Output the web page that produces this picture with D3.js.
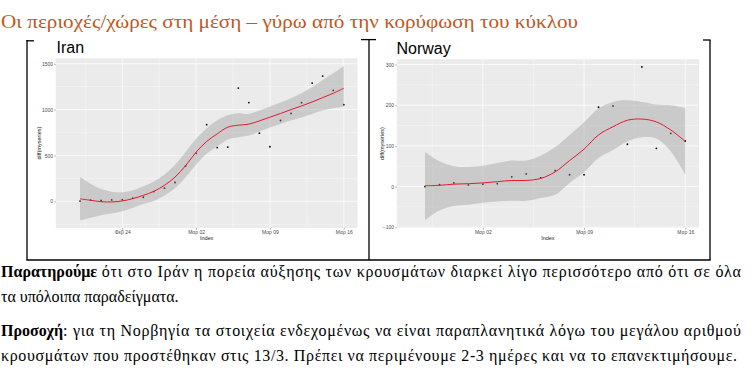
<!DOCTYPE html>
<meta charset="utf-8" />
<title>Iran / Norway - diff(myseries)</title>
<style>
  body { margin: 0; background: #fff; }
  svg { display: block; }
  .panel-bg { fill: #ebebeb; }
  .grid-major { stroke: #fff; stroke-width: 0.7px; }
  .grid-minor { stroke: #fff; stroke-width: 0.35px; }
  .band { fill: #999; fill-opacity: 0.4; }
  .smooth { fill: none; stroke: #e8182a; stroke-width: 1px; }
  .dot { fill: #000; }
  .axis path { display: none; }
  .axis line { stroke: #333; stroke-width: 0.4px; }
  .axis text { font-family: "Liberation Sans", Arial, sans-serif; font-size: 5px; fill: #4d4d4d; }
  .axis-title { font-family: "Liberation Sans", Arial, sans-serif; font-size: 5.5px; fill: #222; }
  .plot-title { font-family: "Liberation Sans", Arial, sans-serif; font-size: 16px; fill: #000; }
  .heading { font-family: "Liberation Serif", "Times New Roman", serif; font-size: 19px; fill: #c2561a; }
  .body-text { font-family: "Liberation Serif", "Times New Roman", serif; font-size: 16px; fill: #000; }
  .frame { stroke: #000; stroke-width: 1.3px; }
</style>
<body>
<svg width="753" height="372"></svg>
<script src="https://d3js.org/d3.v7.min.js"></script>
<script>
const width = 753, height = 372;
const svg = d3.select("svg").attr("width", width).attr("height", height);

// ---- Iran: daily new cases (diff) + loess fit and band
const iranStart = "2020-02-19"; // first cumulative value, diff is NA there
const iranDates = ["2020-02-20","2020-02-21","2020-02-22","2020-02-23","2020-02-24","2020-02-25",
  "2020-02-26","2020-02-27","2020-02-28","2020-02-29","2020-03-01","2020-03-02","2020-03-03",
  "2020-03-04","2020-03-05","2020-03-06","2020-03-07","2020-03-08","2020-03-09","2020-03-10",
  "2020-03-11","2020-03-12","2020-03-13","2020-03-14","2020-03-15","2020-03-16"];
const iranCases = [3,13,10,15,18,34,44,106,143,205,385,523,835,586,591,1234,1076,743,595,881,958,1075,1289,1365,1209,1053];
const iranFit = [27,11,-4,-7,4,29,65,109,174,264,388,536,652,735,808,830,841,877,917,957,1000,1040,1083,1130,1178,1232];
const iranLower = [-207,-178,-152,-134,-109,-69,-29,4,62,141,261,399,518,598,674,699,717,761,804,844,880,913,953,989,1014,1033];
const iranUpper = [264,192,134,105,98,120,163,217,293,399,536,685,797,884,938,960,953,989,1033,1076,1123,1178,1243,1322,1395,1475];
const iranXTicks = ["2020-02-24","2020-03-02","2020-03-09","2020-03-16"];
const iranYTicks = [0, 500, 1000, 1500];

// ---- Norway
const norwayStart = "2020-02-26";
const norwayDates = ["2020-02-27","2020-02-28","2020-02-29","2020-03-01","2020-03-02","2020-03-03",
  "2020-03-04","2020-03-05","2020-03-06","2020-03-07","2020-03-08","2020-03-09","2020-03-10",
  "2020-03-11","2020-03-12","2020-03-13","2020-03-14","2020-03-15","2020-03-16"];
const norwayCases = [0,5,9,4,6,7,24,31,21,39,29,29,195,198,104,294,94,131,112];
const norwayFit = [2,3,6,7,9,12,15,15,20,36,64,92,127,147,163,166,159,139,111];
const norwayLower = [-83,-59,-48,-45,-40,-37,-35,-35,-28,-20,9,35,70,90,111,121,118,86,29];
const norwayUpper = [85,62,50,48,51,58,64,64,76,97,127,158,192,208,212,208,202,200,193];
const norwayXTicks = ["2020-03-02","2020-03-09","2020-03-16"];
const norwayYTicks = [-100, 0, 100, 200, 300];

const parse = d3.timeParse("%Y-%m-%d");
const el = d3.timeFormatLocale({
  dateTime: "%a %e %b %Y %X", date: "%d/%m/%Y", time: "%H:%M:%S",
  periods: ["πμ", "μμ"],
  days: ["Κυριακή","Δευτέρα","Τρίτη","Τετάρτη","Πέμπτη","Παρασκευή","Σάββατο"],
  shortDays: ["Κυρ","Δευ","Τρι","Τετ","Πεμ","Παρ","Σαβ"],
  months: ["Ιανουάριος","Φεβρουάριος","Μάρτιος","Απρίλιος","Μάιος","Ιούνιος","Ιούλιος","Αύγουστος","Σεπτέμβριος","Οκτώβριος","Νοέμβριος","Δεκέμβριος"],
  shortMonths: ["Ιαν","Φεβ","Μαρ","Απρ","Μαΐ","Ιουν","Ιουλ","Αυγ","Σεπ","Οκτ","Νοε","Δεκ"]
});
const fmt = el.format("%b %d");

svg.append("rect").attr("width", width).attr("height", height).attr("fill", "#fff");

function drawPanel(cfg) {
  const { left, right, top, bottom } = cfg.box;
  const rows = cfg.dates.map((d, i) => ({
    date: parse(d), y: cfg.cases[i], fit: cfg.fit[i], lo: cfg.lower[i], hi: cfg.upper[i]
  }));

  // ggplot-like 5% expansion
  const t0 = parse(cfg.start), t1 = rows[rows.length - 1].date;
  const tPad = (t1 - t0) * 0.05;
  const x = d3.scaleTime()
    .domain([new Date(+t0 - tPad), new Date(+t1 + tPad)])
    .range([left, right]);
  const yMin = d3.min(rows, r => Math.min(r.lo, r.y));
  const yMax = d3.max(rows, r => Math.max(r.hi, r.y));
  const yPad = (yMax - yMin) * 0.05;
  const y = d3.scaleLinear().domain([yMin - yPad, yMax + yPad]).range([bottom, top]);

  const g = svg.append("g");
  g.append("rect").attr("class", "panel-bg")
    .attr("x", left).attr("y", top).attr("width", right - left).attr("height", bottom - top);

  const xMajor = cfg.xTicks.map(parse);
  const step = xMajor[1] - xMajor[0];
  const xMinor = [+xMajor[0] - step / 2, ...xMajor.map(d => +d + step / 2)]
    .map(d => new Date(d))
    .filter(d => d >= x.domain()[0] && d <= x.domain()[1]);
  const yStep = cfg.yTicks[1] - cfg.yTicks[0];
  const yMinor = [cfg.yTicks[0] - yStep / 2, ...cfg.yTicks.map(v => v + yStep / 2)]
    .filter(v => v >= y.domain()[0] && v <= y.domain()[1]);

  g.selectAll(".gy-min").data(yMinor).join("line").attr("class", "grid-minor")
    .attr("x1", left).attr("x2", right).attr("y1", d => y(d)).attr("y2", d => y(d));
  g.selectAll(".gx-min").data(xMinor).join("line").attr("class", "grid-minor")
    .attr("y1", top).attr("y2", bottom).attr("x1", d => x(d)).attr("x2", d => x(d));
  g.selectAll(".gy-maj").data(cfg.yTicks).join("line").attr("class", "grid-major")
    .attr("x1", left).attr("x2", right).attr("y1", d => y(d)).attr("y2", d => y(d));
  g.selectAll(".gx-maj").data(xMajor).join("line").attr("class", "grid-major")
    .attr("y1", top).attr("y2", bottom).attr("x1", d => x(d)).attr("x2", d => x(d));

  g.append("g").selectAll("circle").data(rows).join("circle").attr("class", "dot")
    .attr("cx", d => x(d.date)).attr("cy", d => y(d.y)).attr("r", 0.9);

  const band = d3.area().curve(d3.curveCatmullRom)
    .x(d => x(d.date)).y0(d => y(d.lo)).y1(d => y(d.hi));
  g.append("path").datum(rows).attr("class", "band").attr("d", band);

  const line = d3.line().curve(d3.curveCatmullRom).x(d => x(d.date)).y(d => y(d.fit));
  g.append("path").datum(rows).attr("class", "smooth").attr("d", line);

  g.append("g").attr("class", "axis")
    .attr("transform", `translate(0,${bottom})`)
    .call(d3.axisBottom(x).tickValues(xMajor).tickFormat(fmt).tickSize(1.5).tickPadding(1.2));
  g.append("g").attr("class", "axis")
    .attr("transform", `translate(${left},0)`)
    .call(d3.axisLeft(y).tickValues(cfg.yTicks).tickFormat(d3.format("d")).tickSize(1.5).tickPadding(1.2));

  g.append("text").attr("class", "axis-title")
    .attr("x", (left + right) / 2).attr("y", bottom + 12.2)
    .attr("text-anchor", "middle").text("Index");
  g.append("text").attr("class", "axis-title")
    .attr("transform", `translate(${cfg.yLabelX},${(top + bottom) / 2}) rotate(-90)`)
    .attr("text-anchor", "middle").text("diff(myseries)");

  g.append("text").attr("class", "plot-title")
    .attr("x", cfg.titleX).attr("y", cfg.titleY).text(cfg.name);
}

// table frame: only the corners of the top edge are visible above the pictures
const frame = svg.append("g");
[[27, 40, 27, 260], [369, 39.5, 369, 260], [710, 40, 710, 260], [26.4, 260, 710.6, 260],
 [26.4, 40.8, 34, 40.8], [361, 39.6, 376, 39.6], [703, 40, 710.6, 40]]
  .forEach(([x1, y1, x2, y2]) => frame.append("line").attr("class", "frame")
    .attr("x1", x1).attr("y1", y1).attr("x2", x2).attr("y2", y2));

drawPanel({
  name: "Iran", start: iranStart, dates: iranDates, cases: iranCases,
  fit: iranFit, lower: iranLower, upper: iranUpper,
  xTicks: iranXTicks, yTicks: iranYTicks,
  box: { left: 55.8, right: 357.5, top: 58.3, bottom: 228 },
  titleX: 56.5, titleY: 52.8, yLabelX: 41.3
});
drawPanel({
  name: "Norway", start: norwayStart, dates: norwayDates, cases: norwayCases,
  fit: norwayFit, lower: norwayLower, upper: norwayUpper,
  xTicks: norwayXTicks, yTicks: norwayYTicks,
  box: { left: 396.8, right: 699, top: 59.3, bottom: 228 },
  titleX: 396.5, titleY: 54, yLabelX: 383.6
});

// heading and notes
svg.append("text").attr("class", "heading")
  .attr("x", 1).attr("y", 28)
  .attr("textLength", 577).attr("lengthAdjust", "spacingAndGlyphs")
  .text("Οι περιοχές/χώρες στη μέση – γύρω από την κορύφωση του κύκλου");

const notes = [
  { bold: "Παρατηρούμε", rest: " ότι στο Ιράν η πορεία αύξησης των κρουσμάτων διαρκεί λίγο περισσότερο από ότι σε όλα", y: 277, end: 741 },
  { bold: "", rest: "τα υπόλοιπα παραδείγματα.", y: 302, end: null },
  { bold: "Προσοχή", rest: ": για τη Νορβηγία τα στοιχεία ενδεχομένως να είναι παραπλανητικά λόγω του μεγάλου αριθμού", y: 336, end: 741 },
  { bold: "", rest: "κρουσμάτων που προστέθηκαν στις 13/3. Πρέπει να περιμένουμε 2-3 ημέρες και να το επανεκτιμήσουμε.", y: 361, end: 737 }
];
notes.forEach(n => {
  let x0 = 1;
  if (n.bold) {
    const b = svg.append("text").attr("class", "body-text").attr("font-weight", "bold")
      .attr("x", x0).attr("y", n.y).text(n.bold);
    x0 += b.node().getComputedTextLength();
  }
  const t = svg.append("text").attr("class", "body-text")
    .attr("x", x0).attr("y", n.y).attr("xml:space", "preserve").style("white-space", "pre").text(n.rest);
  if (n.end) t.attr("textLength", n.end - x0).attr("lengthAdjust", "spacing");
});
</script>
</body>
